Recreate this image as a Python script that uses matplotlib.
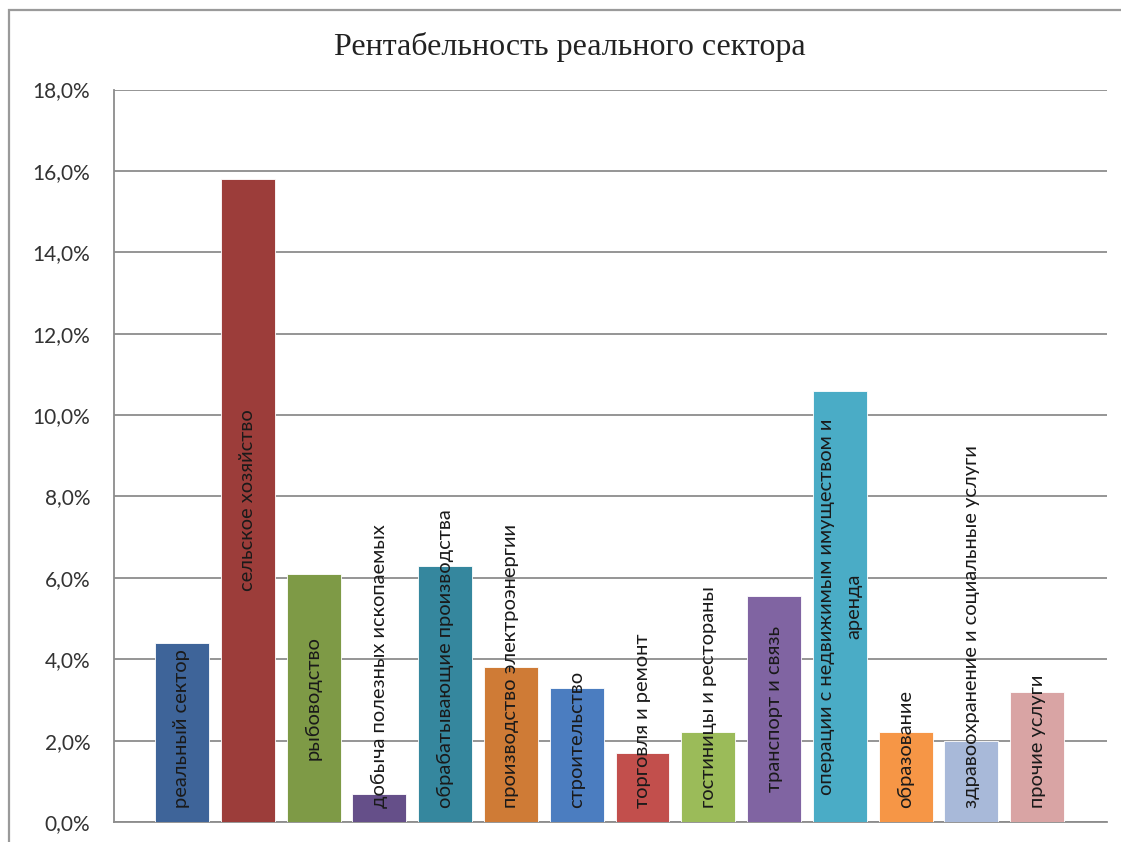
import matplotlib
matplotlib.use("Agg")
import matplotlib.pyplot as plt
from matplotlib.patches import Rectangle
from matplotlib.ticker import FuncFormatter

title = "Рентабельность реального сектора"
sectors = [
    "реальный сектор",
    "сельское хозяйство",
    "рыбоводство",
    "добыча полезных ископаемых",
    "обрабатывающие производства",
    "производство электроэнергии",
    "строительство",
    "торговля и ремонт",
    "гостиницы и рестораны",
    "транспорт и связь",
    "операции с недвижимым имуществом и\nаренда",
    "образование",
    "здравоохранение и социальные услуги",
    "прочие услуги",
]
values = [4.4, 15.8, 6.1, 0.7, 6.3, 3.8, 3.3, 1.7, 2.2, 5.55, 10.6, 2.2, 2.0, 3.2]
colors = ["#3e6499", "#9c3d3a", "#7e9a46", "#654f89", "#35879e", "#cf7b36",
          "#4b7dc0", "#c24f4c", "#9bbb59", "#8064a2", "#4aacc6", "#f69646",
          "#a8b9d9", "#d9a4a4"]
yticks = [0, 2, 4, 6, 8, 10, 12, 14, 16, 18]

plt.rcParams['font.family'] = ['Lato', 'DejaVu Sans']

fig = plt.figure(figsize=(11.21, 8.42), dpi=100)
fig.patches.append(Rectangle((9/1121, -0.1), 1.2, 1 - 10/842 + 0.1,
                             transform=fig.transFigure, fill=False,
                             edgecolor="#9a9a9a", linewidth=1.6))

ax = fig.add_axes([114/1121, 20/842, (1107-114)/1121, (822-89.5)/842])
x = range(len(values))
bars = ax.bar(x, values, width=0.82, color=colors, edgecolor="white", linewidth=0.6, zorder=3)

ax.set_xlim(-1.033, 14.06)
ax.set_ylim(0, 18)
ax.set_yticks(yticks)
ax.yaxis.set_major_formatter(FuncFormatter(lambda v, p: f"{v:.1f}%".replace(".", ",")))
ax.set_xticks([])
ax.tick_params(axis="y", length=0, pad=17, labelsize=15, labelcolor="#333333")
ax.grid(axis="y", color="#8c8c8c", linewidth=1.3, zorder=0)
for s in ["top", "right"]:
    ax.spines[s].set_visible(False)
ax.spines["left"].set_color("#8c8c8c")
ax.spines["bottom"].set_color("#8c8c8c")
ax.spines["left"].set_linewidth(1.3)
ax.spines["bottom"].set_linewidth(1.3)

fig.text(570/1121, 1 - 47/842, title, ha="center", va="center",
         fontsize=23, family="Liberation Serif", color="#222222")

# labels centred in the bar, but never lower than a small margin above the base
labels = []
for i, (v, lab) in enumerate(zip(values, sectors)):
    t = ax.text(i, v / 2, lab, rotation=90, ha="center", va="center",
                multialignment="center", fontsize=14.5, color="#1a1a1a",
                zorder=5, linespacing=1.75)
    labels.append(t)

fig.canvas.draw()
renderer = fig.canvas.get_renderer()
base_px = ax.transData.transform((0, 0))[1] + 14
for t, v in zip(labels, values):
    bb = t.get_window_extent(renderer)
    if bb.y0 < base_px:
        cy = base_px + bb.height / 2
        t.set_y(ax.transData.inverted().transform((0, cy))[1])

fig.savefig("out.png", dpi=100)
